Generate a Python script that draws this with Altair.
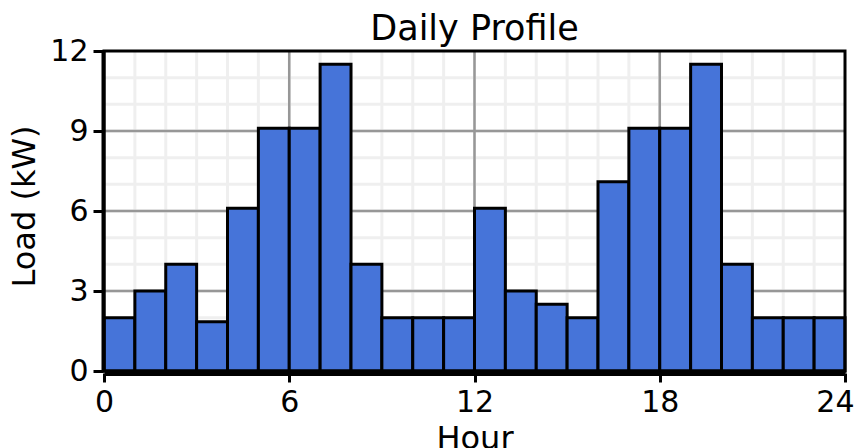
import altair as alt
import pandas as pd

# ---- data ----
hours = list(range(24))
load_kw = [2, 3, 4, 1.85, 6.1, 9.1, 9.1, 11.5, 4, 2, 2, 2,
           6.1, 3, 2.5, 2, 7.1, 9.1, 9.1, 11.5, 4, 2, 2, 2]
hour_ticks = [0, 6, 12, 18, 24]
load_ticks = [0, 3, 6, 9, 12]
hour_minor = list(range(1, 24))
load_minor = list(range(1, 12))
hour_major = [6, 12, 18]
load_major = [3, 6, 9]

FONT = "DejaVu Sans"
BAR_COLOR = "#4674D9"

bars_df = pd.DataFrame({"hour": hours, "load": load_kw})
bars_df["hour_end"] = bars_df["hour"] + 1

xs = alt.Scale(domain=[hour_ticks[0], hour_ticks[-1]], nice=False, zero=False)
ys = alt.Scale(domain=[load_ticks[0], load_ticks[-1]], nice=False)

last_hour_test = f"datum.value == {hour_ticks[-1]}"

x_axis = alt.Axis(values=hour_ticks, title="Hour", grid=False,
                  offset=2, domainColor="black", domainWidth=5,
                  tickColor="black", tickWidth=3, tickSize=9,
                  labelPadding=5, labelFont=FONT, labelFontSize=30,
                  labelColor="black", titleFont=FONT, titleFontSize=32,
                  titleFontWeight="normal", titleColor="black",
                  labelAlign={"condition": {"test": last_hour_test, "value": "right"},
                              "value": "center"},
                  labelOffset={"condition": {"test": last_hour_test, "value": 9},
                               "value": 0},
                  titlePadding=6, labelFlush=False, labelBound=False, zindex=1)
y_axis = alt.Axis(values=load_ticks, title="Load (kW)", grid=False,
                  offset=1, domainColor="black", domainWidth=4,
                  tickColor="black", tickWidth=3, tickSize=10,
                  labelPadding=5, labelFont=FONT, labelFontSize=30,
                  labelColor="black", titleFont=FONT, titleFontSize=32,
                  titleFontWeight="normal", titleColor="black",
                  titleX=-94, titleY=155, titleBaseline="top",
                  titleAngle=270, titleAlign="center", zindex=1)


def X(field):
    return alt.X(field, scale=xs, axis=x_axis, title="Hour")


def Y(field):
    return alt.Y(field, scale=ys, axis=y_axis, title="Load (kW)")


minor_x = alt.Chart(pd.DataFrame({"h": hour_minor})).mark_rule(
    color="#EFEFEF", strokeWidth=3).encode(x=X("h:Q"))
minor_y = alt.Chart(pd.DataFrame({"v": load_minor})).mark_rule(
    color="#EFEFEF", strokeWidth=3).encode(y=Y("v:Q"))
major_x = alt.Chart(pd.DataFrame({"h": hour_major})).mark_rule(
    color="#979797", strokeWidth=2.5).encode(x=X("h:Q"))
major_y = alt.Chart(pd.DataFrame({"v": load_major})).mark_rule(
    color="#979797", strokeWidth=2.5).encode(y=Y("v:Q"))

bars = alt.Chart(bars_df).mark_rect(
    color=BAR_COLOR, stroke="black", strokeWidth=3
).encode(
    x=X("hour:Q"),
    x2="hour_end:Q",
    y=Y("load:Q"),
    y2=alt.datum(load_ticks[0]),
)

frame_df = pd.DataFrame({"x0": [hour_ticks[0]], "x1": [hour_ticks[-1]],
                         "y0": [load_ticks[0]], "y1": [load_ticks[-1]]})
frame = alt.Chart(frame_df).mark_rect(
    filled=False, stroke="black", strokeWidth=3
).encode(
    x=X("x0:Q"), x2="x1:Q",
    y=Y("y0:Q"), y2="y1:Q",
)

chart = alt.layer(minor_x, minor_y, major_x, major_y, bars, frame).properties(
    width=741, height=320,
    title=alt.Title("Daily Profile", font=FONT, fontSize=35, fontWeight="normal",
                    color="black", anchor="middle", frame="group", offset=4,
                    dy=15),
    autosize=alt.AutoSizeParams(type="none"),
    padding={"left": 96, "top": 43, "right": 10, "bottom": 80},
).configure_view(stroke=None).configure(background="white")

chart.save("out.html", embed_options={"renderer": "svg", "actions": False})
